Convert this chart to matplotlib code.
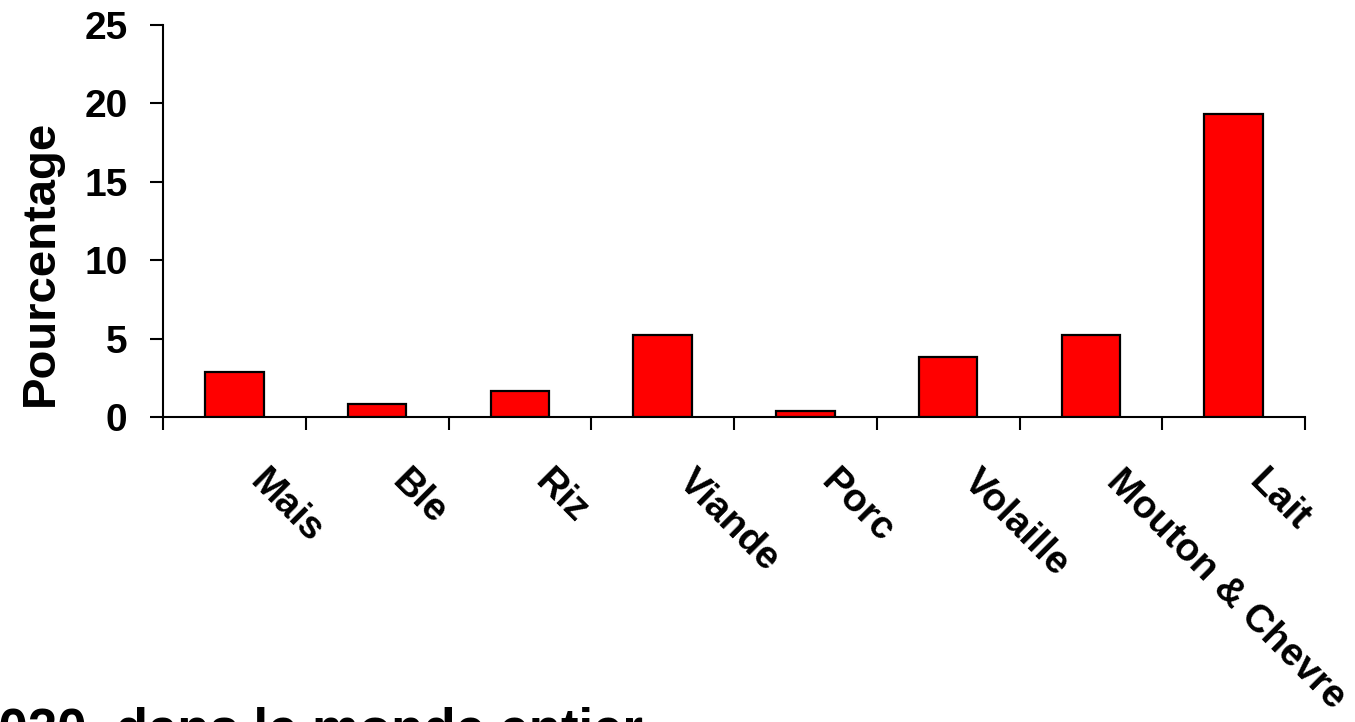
import numpy as np
import matplotlib
matplotlib.use("Agg")
import matplotlib.pyplot as plt
from matplotlib.transforms import ScaledTranslation

plt.rcParams['font.family'] = ['Liberation Sans', 'DejaVu Sans']
plt.rcParams['font.weight'] = 'bold'

categories = ['Mais', 'Ble', 'Riz', 'Viande', 'Porc', 'Volaille', 'Mouton & Chevre', 'Lait']
values = [2.9, 0.8, 1.65, 5.2, 0.4, 3.8, 5.2, 19.3]
yticks = [0, 5, 10, 15, 20, 25]

fig = plt.figure(figsize=(13.55, 7.22), dpi=100)
ax = fig.add_axes([163 / 1355, 1 - 417 / 722, 1142 / 1355, 392 / 722])

x = np.arange(len(categories))
ax.bar(x, values, width=0.41, color='#ff0000', edgecolor='black', linewidth=1.6, zorder=3)

ax.set_xlim(-0.5, len(categories) - 0.5)
ax.set_ylim(0, 25)
for s in ['top', 'right']:
    ax.spines[s].set_visible(False)
for s in ['left', 'bottom']:
    ax.spines[s].set_linewidth(1.5)

ax.set_yticks(yticks)
ax.set_yticklabels([str(t) for t in yticks], fontsize=28, fontweight='bold')
ax.tick_params(axis='y', direction='out', length=9.5, width=1.5, pad=16)

# ticks between the categories, labels at the centres
ax.set_xticks(np.arange(-0.5, len(categories)))
ax.set_xticklabels([])
ax.tick_params(axis='x', which='major', direction='out', length=9.5, width=1.5)
ax.set_xticks(x, minor=True)
ax.set_xticklabels(categories, minor=True, rotation=-45, ha='left', va='top',
                   fontsize=28, fontweight='bold')
ax.tick_params(axis='x', which='minor', length=0, pad=33)
offset = ScaledTranslation(8 / 100, 0, fig.dpi_scale_trans)
for lab in ax.get_xticklabels(minor=True):
    lab.set_transform(lab.get_transform() + offset)

ax.set_ylabel('Pourcentage', fontsize=34, fontweight='bold')
ax.yaxis.set_label_coords(-0.088, 0.392)

fig.text(643 / 1355, 1 - 706 / 722, '2020, dans le monde entier', ha='right', va='top',
         fontsize=38, fontweight='bold')

fig.savefig('out.png', dpi=100)
